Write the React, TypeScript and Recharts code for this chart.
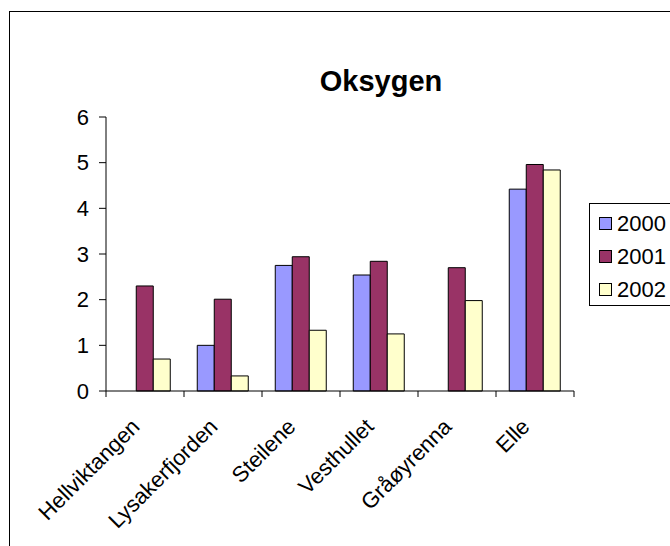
import React from 'react';
import { BarChart, Bar, XAxis, YAxis } from 'recharts';

const categories = ['Hellviktangen', 'Lysakerfjorden', 'Steilene', 'Vesthullet', 'Gråøyrenna', 'Elle'];
const series2000 = [null, 1.0, 2.75, 2.54, null, 4.42];
const series2001 = [2.3, 2.01, 2.94, 2.84, 2.7, 4.96];
const series2002 = [0.7, 0.33, 1.33, 1.25, 1.98, 4.84];
const yTicks = [0, 1, 2, 3, 4, 5, 6];
const seriesNames = ['2000', '2001', '2002'];
const seriesColors = ['#9999FF', '#993366', '#FFFFCC'];

const data = categories.map((c, i) => ({
  name: c,
  '2000': series2000[i],
  '2001': series2001[i],
  '2002': series2002[i],
}));

const FONT = 'Arial, "Liberation Sans", sans-serif';
const W = 670;
const H = 546;
const margin = { top: 117, right: 96, bottom: 95, left: 66 };
const Y_W = 40;
const X_H = 60;
const bandW = (W - margin.left - margin.right - Y_W) / categories.length;

const XTick = (props: any) => {
  const { x, y, payload, index } = props;
  return (
    <g>
      <line x1={x - bandW / 2} x2={x - bandW / 2} y1={y - 8} y2={y - 2} stroke="#000" />
      {index === categories.length - 1 && (
        <line x1={x + bandW / 2} x2={x + bandW / 2} y1={y - 8} y2={y - 2} stroke="#000" />
      )}
      <text
        x={0}
        y={0}
        transform={`translate(${x - 4},${y + 29}) rotate(-45)`}
        textAnchor="end"
        fontFamily={FONT}
        fontSize={22}
        fill="#000"
      >
        {payload.value}
      </text>
    </g>
  );
};

const LegendBox = () => (
  <div
    style={{
      position: 'absolute',
      left: 589,
      top: 203,
      border: '1px solid #000',
      width: 95,
      height: 103,
      boxSizing: 'border-box',
      paddingTop: 3,
      fontFamily: FONT,
      fontSize: 22,
      background: '#fff',
    }}
  >
    {seriesNames.map((n, i) => (
      <div key={n} style={{ display: 'flex', alignItems: 'center', height: 33, marginLeft: 9 }}>
        <div
          style={{
            width: 11,
            height: 11,
            background: seriesColors[i],
            border: '1px solid #000',
            marginRight: 5,
          }}
        />
        <span style={{ color: '#000' }}>{n}</span>
      </div>
    ))}
  </div>
);

export default function App() {
  return (
    <div style={{ position: 'absolute', left: 0, top: 0, width: W, height: H, overflow: 'hidden', background: '#fff' }}>
      <div
        style={{
          position: 'absolute',
          left: 9,
          top: 11,
          width: 700,
          height: 600,
          border: '1px solid #000',
          boxSizing: 'border-box',
        }}
      />
      <div
        style={{
          position: 'absolute',
          left: 281,
          width: 200,
          top: 65,
          textAlign: 'center',
          fontFamily: FONT,
          fontWeight: 'bold',
          fontSize: 29,
          color: '#000',
        }}
      >
        Oksygen
      </div>
      <BarChart
        width={W}
        height={H}
        data={data}
        margin={margin}
        barCategoryGap="17%"
        barGap={0}
        style={{ position: 'absolute', left: 0, top: 0 }}
      >
        <XAxis
          dataKey="name"
          height={X_H}
          axisLine={{ stroke: '#000' }}
          tickLine={false}
          tick={<XTick />}
          interval={0}
        />
        <YAxis
          width={Y_W}
          domain={[0, 6]}
          ticks={yTicks}
          axisLine={{ stroke: '#000' }}
          tickLine={{ stroke: '#000' }}
          tickSize={7}
          tickMargin={10}
          tick={{ fontFamily: FONT, fontSize: 22, fill: '#000' }}
          interval={0}
        />
        {seriesNames.map((n, i) => (
          <Bar
            key={n}
            dataKey={n}
            fill={seriesColors[i]}
            stroke="#000"
            strokeWidth={1}
            isAnimationActive={false}
          />
        ))}
      </BarChart>
      <LegendBox />
    </div>
  );
}
